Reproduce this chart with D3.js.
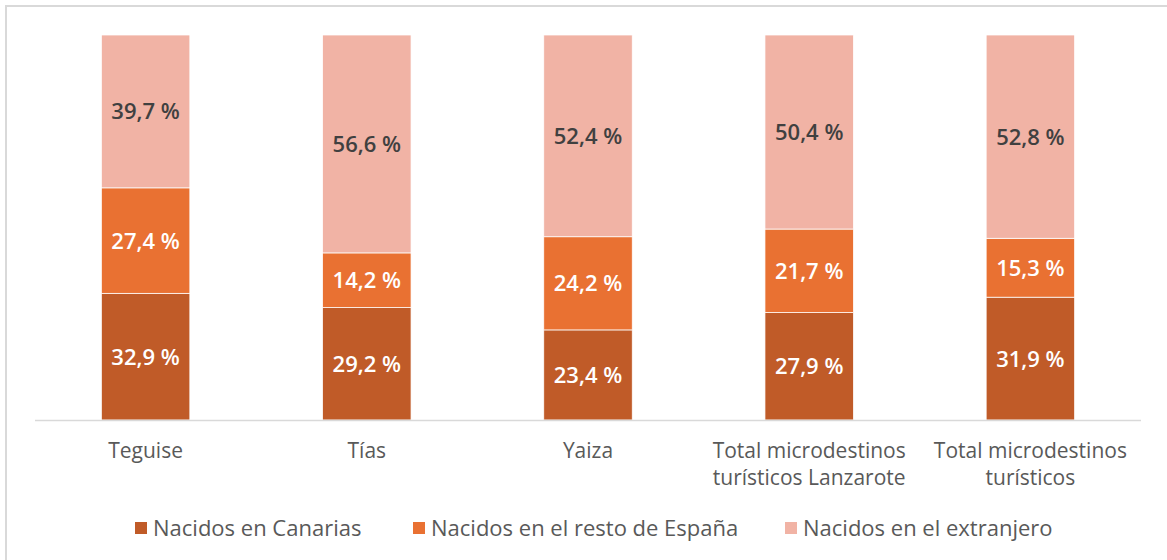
<!DOCTYPE html>
<html>
<head>
<meta charset="utf-8">
<script src="https://cdn.jsdelivr.net/npm/d3@7"></script>
<style>
  body { margin: 0; background: #fff; }
  svg { display: block; font-family: "Open Sans", "Liberation Sans", Arial, sans-serif; }
</style>
</head>
<body>
<div id="chart"></div>
<script>
var categories = ["Teguise", "Tías", "Yaiza", "Total microdestinos turísticos Lanzarote", "Total microdestinos turísticos"];
var categoryLines = [["Teguise"], ["Tías"], ["Yaiza"], ["Total microdestinos", "turísticos Lanzarote"], ["Total microdestinos", "turísticos"]];
var seriesNames = ["Nacidos en Canarias", "Nacidos en el resto de España", "Nacidos en el extranjero"];
var canarias = [32.9, 29.2, 23.4, 27.9, 31.9];
var restoEspana = [27.4, 14.2, 24.2, 21.7, 15.3];
var extranjero = [39.7, 56.6, 52.4, 50.4, 52.8];

var colors = ["#c05b28", "#e97132", "#f1b3a5"];
var labelColors = ["#ffffff", "#ffffff", "#404040"];

var width = 1167, height = 560;
var svg = d3.select("#chart").append("svg")
    .attr("width", width)
    .attr("height", height);

// frame (right/bottom edges fall outside the picture)
svg.append("rect")
    .attr("x", 6).attr("y", 6)
    .attr("width", 1180).attr("height", 580)
    .attr("fill", "none")
    .attr("stroke", "#d9d9d9")
    .attr("stroke-width", 2);

var x = d3.scaleBand()
    .domain(categories)
    .range([35, 1141])
    .paddingInner(0.6)
    .paddingOuter(0.3);

var y = d3.scaleLinear()
    .domain([0, 100])
    .range([420, 35]);

var rows = categories.map(function(c, i){
    return { cat: c, s0: canarias[i], s1: restoEspana[i], s2: extranjero[i] };
});
var stack = d3.stack().keys(["s0", "s1", "s2"]);
var layers = stack(rows);

var g = svg.append("g");
layers.forEach(function(layer, k){
    var lg = g.append("g");
    lg.selectAll("rect")
        .data(layer)
        .enter().append("rect")
        .attr("x", function(d){ return x(d.data.cat); })
        .attr("y", function(d){ return y(d[1]); })
        .attr("width", x.bandwidth())
        .attr("height", function(d){ return y(d[0]) - y(d[1]); })
        .attr("fill", colors[k])
        .attr("stroke", "#ffffff")
        .attr("stroke-width", 0.75);

    lg.selectAll("text")
        .data(layer)
        .enter().append("text")
        .attr("x", function(d){ return x(d.data.cat) + x.bandwidth() / 2; })
        .attr("y", function(d){ return (y(d[0]) + y(d[1])) / 2; })
        .attr("dy", "0.36em")
        .attr("text-anchor", "middle")
        .attr("font-size", "22px")
        .attr("font-weight", 600)
        .attr("fill", labelColors[k])
        .text(function(d){ return d3.format(".1f")(d[1] - d[0]).replace(".", ",") + " %"; });
});

// baseline
svg.append("line")
    .attr("x1", 35).attr("x2", 1141)
    .attr("y1", y(0) + 0.5).attr("y2", y(0) + 0.5)
    .attr("stroke", "#d9d9d9")
    .attr("stroke-width", 1.5);

// category labels
var ax = svg.append("g");
categories.forEach(function(c, i){
    var t = ax.append("text")
        .attr("x", x(c) + x.bandwidth() / 2)
        .attr("y", 458)
        .attr("text-anchor", "middle")
        .attr("font-size", "21px")
        .attr("fill", "#595959");
    categoryLines[i].forEach(function(line, j){
        t.append("tspan")
            .attr("x", x(c) + x.bandwidth() / 2)
            .attr("dy", j === 0 ? 0 : 27)
            .text(line);
    });
});

// legend
var legendX = [135, 413, 785];
var legend = svg.append("g");
seriesNames.forEach(function(name, i){
    legend.append("rect")
        .attr("x", legendX[i]).attr("y", 522)
        .attr("width", 12).attr("height", 12)
        .attr("fill", colors[i]);
    legend.append("text")
        .attr("x", legendX[i] + 18)
        .attr("y", 528)
        .attr("dy", "0.36em")
        .attr("font-size", "22px")
        .attr("fill", "#595959")
        .text(name);
});
</script>
</body>
</html>
